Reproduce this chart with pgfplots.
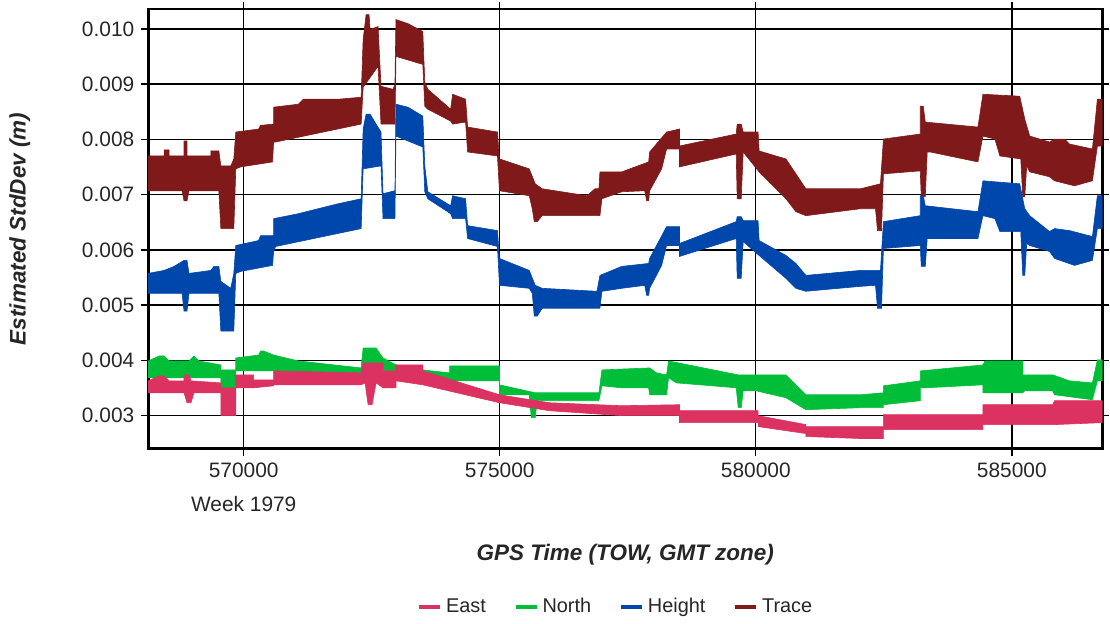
\documentclass[border=0pt]{standalone}
\usepackage{fontspec}
\setmainfont{Liberation Sans}
\usepackage{pgfplots}
\pgfplotsset{compat=1.18}

\definecolor{eastc}{RGB}{220,50,98}
\definecolor{northc}{RGB}{0,190,56}
\definecolor{heightc}{RGB}{0,71,171}
\definecolor{tracec}{RGB}{128,26,26}

\begin{document}
\begin{tikzpicture}
\begin{axis}[
  name=ax,
  scale only axis,
  width=479.5pt, height=221pt,
  xmin=568135, xmax=586768,
  ymin=0.0024, ymax=0.01036,
  xtick={570000,575000,580000,585000},
  xticklabels={{570000\\Week 1979},575000,580000,585000},
  ytick={0.003,0.004,...,0.0105},
  scaled x ticks=false, scaled y ticks=false,
  /pgf/number format/.cd, fixed, fixed zerofill, precision=3, assume math mode=true,
  /pgfplots/.cd,
  tick label style={font=\fontsize{10.5}{17}\selectfont, text=black!85},
  xticklabel style={align=center},
  tick align=outside,
  major tick length=3.5pt,
  every tick/.style={black, line width=0.7pt},
  grid=major,
  major grid style={black, line width=0.7pt},
  axis line style={black, line width=1.3pt},
  xlabel={\bfseries\itshape GPS Time (TOW, GMT zone)},
  ylabel={\bfseries\itshape Estimated StdDev (m)},
  xlabel style={at={(axis description cs:0.5,0)}, anchor=center, yshift=-53.5pt, font=\fontsize{11.3}{13}\selectfont, text=black!85},
  ylabel style={at={(axis description cs:-0.1345,0.5)}, anchor=center, font=\fontsize{11.3}{13}\selectfont, text=black!85},
  legend columns=4,
  legend style={draw=none, at={(axis description cs:0.491,0)}, anchor=center, yshift=-79.5pt,
    font=\fontsize{10}{12}\selectfont, text=black!85,
    /tikz/every even column/.append style={column sep=12pt}},
  legend image code/.code={\draw[#1, line width=2pt] (0pt,0pt) -- (10.5pt,0pt);},
]
\addlegendimage{eastc}\addlegendentry{East}
\addlegendimage{northc}\addlegendentry{North}
\addlegendimage{heightc}\addlegendentry{Height}
\addlegendimage{tracec}\addlegendentry{Trace}

% Trace band: upper edge left to right, then lower edge right to left
\addplot[forget plot, draw=tracec, fill=tracec, line width=0.3pt] coordinates {
(568135,0.007699)(568446,0.007699)(568446,0.007807)(568543,0.007807)(568543,0.007699)
(568834,0.007699)(568834,0.007969)(568892,0.007969)(568892,0.007699)(569359,0.007699)
(569359,0.007789)(569514,0.007789)(569553,0.007519)(569747,0.007519)(569806,0.007645)
(569845,0.008132)(570291,0.008186)(570330,0.008258)(570389,0.008258)(570583,0.008276)
(570583,0.008582)(571069,0.008636)(571166,0.008726)(571846,0.008726)(572293,0.008762)
(572332,0.009807)(572390,0.010258)(572448,0.010258)(572468,0.009987)(572623,0.010041)
(572681,0.008960)(572915,0.008906)(572953,0.008996)(572973,0.010168)(573206,0.010095)
(573497,0.009951)(573536,0.009032)(573595,0.008906)(574041,0.008546)(574080,0.008816)
(574333,0.008726)(574372,0.008222)(574955,0.008132)(574994,0.007645)(575576,0.007465)
(575693,0.007195)(575829,0.007105)(576703,0.006979)(576859,0.007105)(576937,0.007105)
(576956,0.007411)(577383,0.007411)(577908,0.007591)(577927,0.007771)(578258,0.008132)
(578510,0.008186)(578510,0.007879)(579618,0.008096)(579637,0.008276)(579715,0.008276)
(579754,0.008132)(580045,0.008132)(580065,0.007789)(580589,0.007645)(580784,0.007375)
(580978,0.007105)(582047,0.007105)(582435,0.007195)(582493,0.008005)(583212,0.008096)
(583212,0.008600)(583271,0.008600)(583310,0.008312)(584339,0.008222)(584436,0.008816)
(585155,0.008780)(585253,0.008366)(585350,0.008059)(585738,0.007951)(585835,0.008005)
(586030,0.008005)(586127,0.007915)(586574,0.007825)(586671,0.008726)(586768,0.008726)
(586768,0.007879)(586671,0.007879)(586574,0.007249)(586224,0.007159)(585835,0.007249)
(585738,0.007321)(585350,0.007411)(585291,0.007519)(585253,0.006961)(585214,0.006961)
(585175,0.007645)(584767,0.007699)(584670,0.008005)(584436,0.008059)(584339,0.007591)
(583407,0.007771)(583348,0.007771)(583310,0.006961)(583232,0.006961)(583212,0.007429)
(582493,0.007375)(582455,0.006348)(582377,0.006348)(582338,0.006744)(582047,0.006744)
(580978,0.006618)(580784,0.006690)(580589,0.006924)(580065,0.007411)(579754,0.007771)
(579715,0.006924)(579637,0.006924)(579618,0.007735)(578510,0.007501)(578510,0.007825)
(578258,0.007825)(578161,0.007465)(577927,0.007069)(577908,0.006888)(577869,0.006888)
(577830,0.007069)(577383,0.007051)(576995,0.006924)(576956,0.006618)(575829,0.006618)
(575732,0.006510)(575674,0.006510)(575635,0.006744)(575576,0.006979)(574994,0.007069)
(574955,0.007699)(574372,0.007771)(574333,0.008312)(574080,0.008276)(574041,0.008330)
(573595,0.008546)(573536,0.008600)(573497,0.009357)(572973,0.009501)(572953,0.008276)
(572681,0.008276)(572623,0.009321)(572332,0.008942)(572293,0.008276)(570622,0.007951)
(570583,0.007951)(570563,0.007591)(569942,0.007501)(569845,0.007465)(569806,0.006384)
(569553,0.006384)(569514,0.007069)(568931,0.007069)(568892,0.006888)(568834,0.006888)
(568795,0.007069)(568135,0.007069)
} -- cycle;

% Height band
\addplot[forget plot, draw=heightc, fill=heightc, line width=0.3pt] coordinates {
(568135,0.005573)(568446,0.005627)(568640,0.005700)(568834,0.005808)(568892,0.005808)
(568931,0.005573)(569359,0.005627)(569417,0.005700)(569514,0.005700)(569553,0.005429)
(569747,0.005303)(569806,0.005573)(569845,0.006078)(570291,0.006168)(570330,0.006258)
(570583,0.006258)(570583,0.006564)(571069,0.006654)(571846,0.006834)(572293,0.006924)
(572332,0.008186)(572390,0.008456)(572468,0.008456)(572584,0.008276)(572681,0.008132)
(572720,0.007015)(572953,0.007069)(572973,0.008636)(573206,0.008582)(573497,0.008420)
(573536,0.007519)(573595,0.007051)(574041,0.006798)(574080,0.006979)(574333,0.006924)
(574372,0.006438)(574955,0.006348)(574994,0.005844)(575576,0.005627)(575693,0.005357)
(575829,0.005303)(576898,0.005249)(576956,0.005537)(577383,0.005700)(577908,0.005753)
(577927,0.005844)(578258,0.006420)(578510,0.006420)(578510,0.006114)(579618,0.006510)
(579637,0.006600)(579715,0.006600)(579754,0.006528)(580045,0.006528)(580065,0.006168)
(580589,0.005898)(580784,0.005753)(580978,0.005537)(582047,0.005627)(582435,0.005627)
(582493,0.006510)(583212,0.006618)(583212,0.006979)(583271,0.006979)(583310,0.006798)
(584339,0.006690)(584436,0.007249)(585155,0.007195)(585253,0.006744)(585350,0.006618)
(585738,0.006330)(585835,0.006384)(586127,0.006348)(586574,0.006240)(586671,0.006979)
(586768,0.006979)
(586768,0.006384)(586671,0.006384)(586574,0.005808)(586224,0.005718)(585835,0.005844)
(585738,0.005970)(585350,0.006078)(585291,0.006114)(585253,0.005537)(585214,0.005537)
(585175,0.006330)(584767,0.006330)(584670,0.006564)(584436,0.006618)(584339,0.006204)
(583348,0.006204)(583310,0.005700)(583232,0.005700)(583212,0.006078)(582493,0.006024)
(582455,0.004943)(582377,0.004943)(582338,0.005357)(582047,0.005339)(580978,0.005249)
(580784,0.005303)(580589,0.005483)(580065,0.005898)(579754,0.006150)(579715,0.005483)
(579637,0.005483)(579618,0.006204)(578510,0.005880)(578510,0.006078)(578258,0.006078)
(578161,0.005718)(577927,0.005303)(577908,0.005177)(577869,0.005177)(577830,0.005357)
(577383,0.005303)(576995,0.005249)(576956,0.004943)(575829,0.004943)(575732,0.004799)
(575674,0.004799)(575635,0.005213)(575576,0.005303)(574994,0.005357)(574955,0.006060)
(574372,0.006204)(574333,0.006564)(574080,0.006564)(574041,0.006654)(573595,0.006924)
(573536,0.007051)(573497,0.007861)(572973,0.008059)(572953,0.006564)(572720,0.006564)
(572681,0.007519)(572332,0.007465)(572293,0.006384)(570622,0.006060)(570583,0.005970)
(570563,0.005718)(569942,0.005609)(569845,0.005573)(569806,0.004529)(569553,0.004529)
(569514,0.005213)(568931,0.005213)(568892,0.004889)(568834,0.004889)(568795,0.005213)
(568135,0.005213)
} -- cycle;

% North band
\addplot[forget plot, draw=northc, fill=northc, line width=0.3pt] coordinates {
(568135,0.003988)(568348,0.004078)(568446,0.004078)(568543,0.003988)(568931,0.003988)
(569028,0.004078)(569126,0.003988)(569553,0.003916)(569553,0.003826)(569845,0.003826)
(569845,0.004042)(570291,0.004095)(570330,0.004168)(570389,0.004168)(570583,0.004095)
(571069,0.003988)(572293,0.003862)(572332,0.004222)(572584,0.004222)(572720,0.004042)
(572973,0.003916)(573497,0.003826)(574022,0.003772)(574022,0.003898)(574994,0.003898)
(574994,0.003556)(575693,0.003412)(576937,0.003412)(576995,0.003826)(577927,0.003862)
(578063,0.003772)(578258,0.003736)(578297,0.003988)(579657,0.003736)(580589,0.003736)
(580978,0.003376)(582047,0.003376)(582493,0.003412)(582493,0.003538)(583212,0.003628)
(583212,0.003808)(584436,0.003916)(584475,0.003988)(585214,0.003988)(585214,0.003736)
(585797,0.003736)(586127,0.003628)(586574,0.003591)(586671,0.004006)(586768,0.004006)
(586768,0.003628)(586671,0.003628)(586574,0.003286)(585835,0.003376)(585797,0.003448)
(585253,0.003448)(585214,0.003412)(584436,0.003412)(584436,0.003556)(583310,0.003502)
(583212,0.003502)(583212,0.003268)(582493,0.003196)(582493,0.003142)(582047,0.003142)
(580978,0.003106)(580589,0.003322)(580006,0.003448)(579754,0.003448)(579715,0.003142)
(579657,0.003142)(579618,0.003502)(578452,0.003591)(578297,0.003682)(578258,0.003376)
(577927,0.003376)(577908,0.003502)(577383,0.003502)(576995,0.003538)(576937,0.003268)
(575732,0.003268)(575693,0.002962)(575615,0.002962)(575576,0.003376)(574994,0.003376)
(574994,0.003628)(574022,0.003628)(573497,0.003682)(572720,0.003682)(572293,0.003736)
(571069,0.003736)(570583,0.003808)(569845,0.003808)(569845,0.003502)(569553,0.003502)
(569553,0.003682)(568135,0.003682)
} -- cycle;

% East band
\addplot[forget plot, draw=eastc, fill=eastc, line width=0.3pt] coordinates {
(568135,0.003628)(568348,0.003717)(568446,0.003717)(568543,0.003628)(568834,0.003628)
(568834,0.003736)(568931,0.003736)(568970,0.003628)(569553,0.003591)(569553,0.003502)
(569845,0.003502)(569845,0.003736)(570194,0.003736)(570194,0.003646)(570583,0.003646)
(570583,0.003808)(572293,0.003772)(572332,0.003952)(572720,0.003952)(572720,0.003808)
(572973,0.003808)(572973,0.003916)(573497,0.003916)(573497,0.003808)(574994,0.003376)
(575965,0.003232)(577383,0.003178)(578510,0.003196)(578510,0.003088)(580045,0.003088)
(580045,0.002998)(580978,0.002836)(580978,0.002800)(582493,0.002800)(582493,0.003016)
(584436,0.003016)(584436,0.003196)(585797,0.003196)(585835,0.003268)(586768,0.003268)
(586768,0.002872)(585835,0.002836)(584436,0.002836)(584436,0.002746)(582493,0.002746)
(582493,0.002584)(582047,0.002584)(580978,0.002620)(580978,0.002674)(580045,0.002800)
(580045,0.002872)(578510,0.002872)(578510,0.002998)(577383,0.002998)(575965,0.003088)
(574994,0.003232)(573497,0.003556)(572973,0.003628)(572973,0.003502)(572720,0.003502)
(572584,0.003591)(572506,0.003196)(572429,0.003196)(572370,0.003591)(572293,0.003556)
(570583,0.003556)(570583,0.003538)(570194,0.003502)(569845,0.003502)(569845,0.002998)
(569553,0.002998)(569553,0.003412)(569028,0.003412)(568970,0.003232)(568892,0.003232)
(568834,0.003412)(568135,0.003412)
} -- cycle;
\end{axis}
\path[use as bounding box] ([xshift=-74.5pt,yshift=-85pt]ax.south west) rectangle ([xshift=1pt,yshift=4.5pt]ax.north east);
\end{tikzpicture}
\end{document}
